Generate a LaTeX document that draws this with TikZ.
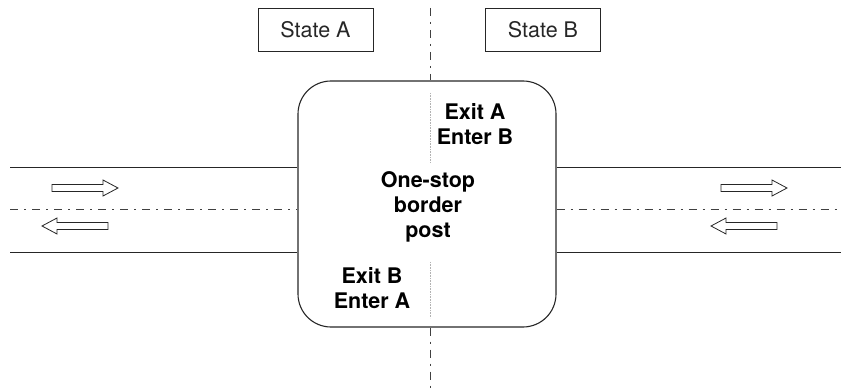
\documentclass[tikz,border=0pt]{standalone}
\usepackage{fontspec}
\setmainfont{TeX Gyre Heros}
\begin{document}
\begin{tikzpicture}[x=1pt,y=-1pt,
  thinline/.style={line width=0.9pt,black!85},
  dashdot/.style={line width=1pt,black!75,dash pattern=on 8pt off 6pt on 2pt off 6pt},
  grayline/.style={line width=0.9pt,black!30,dash pattern=on 1pt off 0.6pt},
  statebox/.style={draw,thinline,minimum width=115pt,minimum height=43pt,inner sep=0pt,font=\fontsize{21.5}{24}\selectfont},
  bordertext/.style={align=center,font=\fontsize{21.5}{25}\selectfont\bfseries,inner sep=0pt},
  fatarrow/.pic={\draw[line width=0.8pt,black!85,fill=white] (0,-3.5) -- (51,-3.5) -- (51,-8) -- (66,0) -- (51,8) -- (51,3.5) -- (0,3.5) -- cycle;}
]
\useasboundingbox (0,0) rectangle (841,390);
% border line
\coordinate (vtop) at (430,8);
\coordinate (vbot) at (430,390);
% one-stop post
\node[draw,line width=1.1pt,black!85,rounded corners=33pt,minimum width=258pt,minimum height=246pt,inner sep=0pt] (post) at (427,204) {};
\draw[dashdot] (vtop) -- (vtop |- post.north);
\draw[dashdot] (vbot |- post.south) -- (vbot);
% state boxes
\node[statebox] (sa) at (315.5,29.5) {State A};
\node[statebox] (sb) at (543,29.5) {State B};
% roads
\coordinate (lt) at (10,167);
\coordinate (lm) at (10,210);
\coordinate (lb) at (10,252);
\coordinate (rt) at (841,167);
\coordinate (rm) at (841,210);
\coordinate (rb) at (841,252);
\draw[thinline] (lt) -- (lt -| post.west);
\draw[thinline] (lb) -- (lb -| post.west);
\draw[dashdot] (lm) -- (lm -| post.west);
\draw[thinline] (rt -| post.east) -- (rt);
\draw[thinline] (rb -| post.east) -- (rb);
\draw[dashdot] (rm -| post.east) -- (rm);
% arrows
\pic at (52,188) {fatarrow};
\pic[xscale=-1] at (108,226) {fatarrow};
\pic at (721,188) {fatarrow};
\pic[xscale=-1] at (777,226) {fatarrow};
% inner gray lines
\coordinate (g1a) at (430,93);
\coordinate (g1b) at (430,163);
\coordinate (g2a) at (430,262);
\coordinate (g2b) at (430,318);
\draw[grayline] (g1a) -- (g1b);
\draw[grayline] (g2a) -- (g2b);
% texts
\node[bordertext] (ea) at (475,124) {Exit A\\Enter B};
\node[bordertext] (osp) at (428,207) {One-stop\\border\\post};
\node[bordertext] (eb) at (372,288) {Exit B\\Enter A};
\end{tikzpicture}
\end{document}
